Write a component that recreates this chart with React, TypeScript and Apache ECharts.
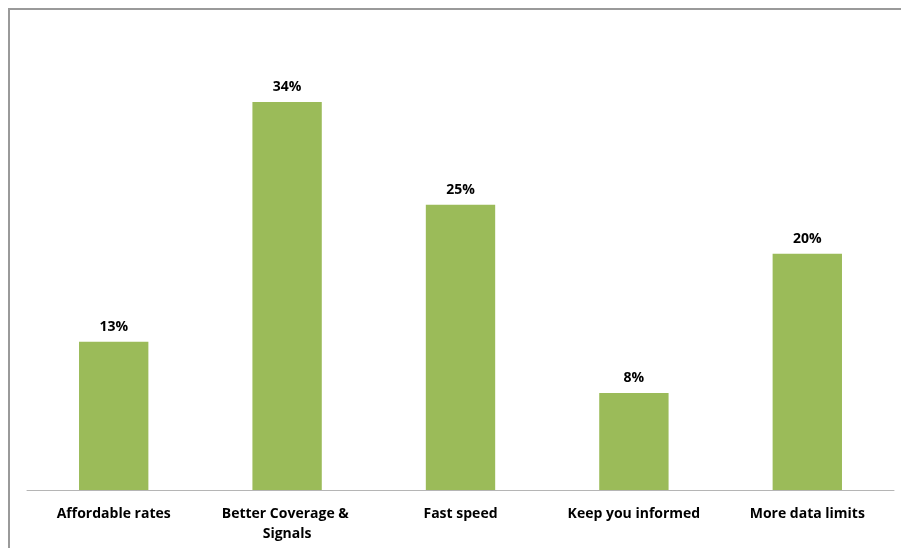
import React, { useEffect, useRef } from "react";
import * as echarts from "echarts";

const categories = [
  "Affordable rates",
  "Better Coverage & Signals",
  "Fast speed",
  "Keep you informed",
  "More data limits",
];
const values = [13.0, 34.0, 25.0, 8.5, 20.7];
const valueLabels = ["13%", "34%", "25%", "8%", "20%"];

export default function App() {
  const ref = useRef<HTMLDivElement>(null);
  useEffect(() => {
    document.documentElement.style.overflow = "hidden";
    document.body.style.overflow = "hidden";
    if (!ref.current) return;
    const chart = echarts.init(ref.current, undefined, { renderer: "svg" });
    chart.setOption({
      animation: false,
      graphic: [
        {
          type: "rect",
          silent: true,
          shape: { x: 1, y: 1, width: 1200, height: 1200 },
          style: { fill: "none", stroke: "#9a9a9a", lineWidth: 2 },
        },
      ],
      grid: { left: 19, right: 7, top: 25.5, bottom: 58, containLabel: false },
      xAxis: {
        type: "category",
        data: categories,
        axisLine: { lineStyle: { color: "#b5b5b5", width: 1 } },
        axisTick: { show: false },
        axisLabel: {
          interval: 0,
          color: "#000",
          fontFamily: "Open Sans",
          fontWeight: "bold",
          fontSize: 14,
          lineHeight: 20,
          margin: 12,
          width: 150,
          overflow: "break",
        },
      },
      yAxis: {
        type: "value",
        min: 0,
        max: 40,
        show: false,
        splitLine: { show: false },
      },
      series: [
        {
          type: "bar",
          data: values,
          barWidth: "40%",
          itemStyle: { color: "#9bbb59" },
          label: {
            show: true,
            position: "top",
            distance: 9,
            color: "#000",
            fontFamily: "Open Sans",
            fontWeight: "bold",
            fontSize: 14,
            formatter: (p: any) => valueLabels[p.dataIndex],
          },
        },
      ],
    });
    return () => chart.dispose();
  }, []);
  return (
    <div
      ref={ref}
      style={{ position: "fixed", left: 8, top: 8, width: 893, height: 540 }}
    />
  );
}
